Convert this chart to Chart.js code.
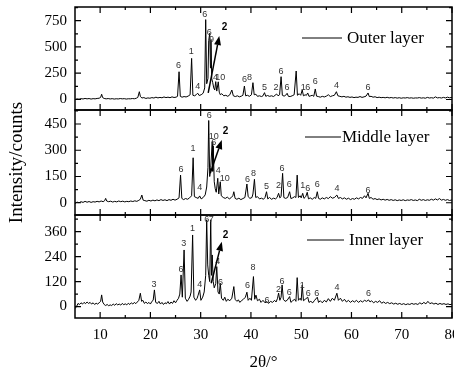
<!DOCTYPE html>
<html>
<head>
<meta charset="utf-8">
<script src="https://cdn.jsdelivr.net/npm/chart.js@4.4.0/dist/chart.umd.min.js"></script>
<style>
  html, body { margin: 0; padding: 0; background: #fff; }
  #wrap { position: relative; width: 454px; height: 373px; }
  #wrap canvas { position: absolute; left: 0; top: 0; }
</style>
</head>
<body>
<div id="wrap">
  <canvas id="outerChart" width="454" height="373"></canvas>
  <canvas id="middleChart" width="454" height="373"></canvas>
  <canvas id="innerChart" width="454" height="373"></canvas>
</div>
<script>
// axis ranges and tick labels
const twoThetaRange = [5, 80];
const twoThetaTicks = [10, 20, 30, 40, 50, 60, 70, 80];

const outerRange = [-100, 880];
const middleRange = [-70, 530];
const innerRange = [-55, 440];
const outerTicks = [0, 250, 500, 750];
const middleTicks = [0, 150, 300, 450];
const innerTicks = [0, 120, 240, 360];

// XRD patterns: [2theta, counts]
const outerPattern = [
  [5,0],[5.4,6],[5.8,3],[6.2,8],[6.6,5],[7,10],[7.4,6],[7.8,9],[8.2,4],[8.6,8],[9,6],[9.4,10],[9.8,12],[10.1,20],[10.3,50],[10.5,18],[10.8,10],[11.2,6],[11.6,9],[12,5],[12.4,8],[12.8,4],[13.2,7],[13.6,5],[14,9],[14.4,6],[14.8,8],[15.2,4],[15.6,7],[16,6],[16.4,9],[16.8,7],[17.2,12],[17.5,20],[17.8,74],[18.0,30],[18.3,14],[18.7,18],[19.1,10],[19.5,15],[19.9,12],[20.3,18],[20.7,14],[21.1,22],[21.5,15],[21.9,20],[22.3,16],[22.7,24],[23.1,18],[23.5,22],[23.9,17],[24.3,25],[24.7,19],[25.1,22],[25.4,30],[25.7,264],[25.95,30],[26.3,22],[26.7,28],[27.1,24],[27.5,32],[27.9,45],[28.2,391],[28.45,40],[28.8,35],[29.1,45],[29.4,60],[29.7,38],[30.1,45],[30.5,60],[30.8,110],[31.0,760],[31.2,150],[31.45,200],[31.6,560],[31.8,630],[31.95,300],[32.05,565],[32.2,200],[32.4,160],[32.6,110],[32.8,90],[33.0,170],[33.2,80],[33.5,168],[33.7,70],[33.9,45],[34.2,55],[34.6,35],[35.0,40],[35.4,30],[35.8,45],[36.2,90],[36.5,35],[36.9,28],[37.3,35],[37.7,25],[38.1,32],[38.4,40],[38.7,128],[38.95,35],[39.3,40],[39.7,30],[40.1,45],[40.4,160],[40.65,45],[41.0,50],[41.3,30],[41.7,35],[42.1,28],[42.4,35],[42.7,65],[42.95,30],[43.3,38],[43.7,30],[44.1,35],[44.5,28],[44.8,40],[45.1,52],[45.4,35],[45.7,45],[46.0,217],[46.25,40],[46.6,32],[46.9,40],[47.2,59],[47.45,30],[47.8,28],[48.2,35],[48.6,45],[49.0,271],[49.25,40],[49.6,55],[49.9,40],[50.2,90],[50.45,35],[50.8,45],[51.0,38],[51.3,62],[51.55,30],[51.9,35],[52.2,40],[52.5,30],[52.8,100],[53.05,32],[53.4,28],[53.8,22],[54.2,30],[54.6,24],[55.0,32],[55.4,45],[55.8,28],[56.2,35],[56.6,40],[57.0,74],[57.3,35],[57.7,30],[58.1,25],[58.5,30],[58.9,22],[59.3,26],[59.7,20],[60.1,24],[60.5,18],[60.9,22],[61.3,20],[61.7,28],[62.1,20],[62.5,25],[62.9,32],[63.3,62],[63.55,28],[63.9,30],[64.3,22],[64.7,26],[65.1,18],[65.5,22],[65.9,17],[66.3,20],[66.7,16],[67.1,21],[67.5,15],[67.9,19],[68.3,14],[68.7,18],[69.1,13],[69.5,17],[69.9,12],[70.3,16],[70.7,14],[71.1,18],[71.5,13],[71.9,16],[72.3,12],[72.7,15],[73.1,14],[73.5,18],[73.9,13],[74.3,16],[74.7,12],[75.1,20],[75.5,14],[75.9,17],[76.3,13],[76.7,25],[77.1,15],[77.5,18],[77.9,14],[78.3,20],[78.7,15],[79.1,22],[79.5,16],[80,20]
];

const middlePattern = [
  [5,-5],[5.4,4],[5.8,0],[6.2,6],[6.6,2],[7,8],[7.4,3],[7.8,7],[8.2,2],[8.6,6],[9,4],[9.4,8],[9.8,5],[10.2,10],[10.6,6],[10.9,12],[11.1,25],[11.3,10],[11.7,6],[12.1,9],[12.5,4],[12.9,8],[13.3,5],[13.7,10],[14.1,6],[14.5,9],[14.9,5],[15.3,8],[15.7,6],[16.1,10],[16.5,7],[16.9,11],[17.3,8],[17.7,14],[18.0,20],[18.3,44],[18.55,15],[18.9,12],[19.3,9],[19.7,14],[20.1,10],[20.5,15],[20.9,11],[21.3,16],[21.7,12],[22.1,18],[22.5,13],[22.9,17],[23.3,12],[23.7,18],[24.1,14],[24.5,20],[24.9,15],[25.3,20],[25.7,28],[26.0,158],[26.25,25],[26.6,18],[27.0,24],[27.4,20],[27.8,28],[28.2,40],[28.5,257],[28.75,35],[29.1,30],[29.5,25],[29.8,39],[30.1,22],[30.5,30],[30.9,45],[31.2,90],[31.45,200],[31.6,470],[31.8,150],[32.0,200],[32.3,349],[32.4,180],[32.5,324],[32.7,120],[32.9,80],[33.1,60],[33.4,140],[33.6,50],[33.9,120],[34.1,40],[34.5,30],[34.9,25],[35.3,32],[35.7,22],[36.1,30],[36.4,40],[36.6,63],[36.85,25],[37.2,20],[37.6,26],[38.0,18],[38.4,24],[38.8,30],[39.2,107],[39.45,35],[39.8,25],[40.2,30],[40.4,50],[40.7,134],[40.95,30],[41.3,35],[41.7,22],[42.1,26],[42.5,20],[42.8,30],[43.1,63],[43.35,22],[43.7,30],[44.1,20],[44.5,26],[44.9,22],[45.2,30],[45.5,54],[45.75,28],[46.0,35],[46.3,168],[46.55,30],[46.9,25],[47.3,30],[47.7,63],[47.95,24],[48.3,28],[48.7,35],[48.95,30],[49.2,158],[49.45,30],[49.8,40],[50.0,28],[50.3,54],[50.55,25],[50.9,35],[51.2,60],[51.45,22],[51.8,28],[52.2,20],[52.6,30],[52.9,25],[53.2,63],[53.45,25],[53.8,20],[54.2,28],[54.6,22],[55.0,30],[55.4,24],[55.8,35],[56.2,26],[56.6,30],[57.1,44],[57.4,25],[57.8,30],[58.2,22],[58.6,28],[59.0,20],[59.4,26],[59.8,18],[60.2,24],[60.6,20],[61.0,28],[61.4,22],[61.8,30],[62.2,25],[62.6,40],[62.9,28],[63.3,54],[63.55,25],[63.9,30],[64.3,20],[64.7,24],[65.1,18],[65.5,22],[65.9,16],[66.3,20],[66.7,15],[67.1,19],[67.5,14],[67.9,18],[68.3,13],[68.7,17],[69.1,12],[69.5,16],[69.9,13],[70.3,17],[70.7,12],[71.1,16],[71.5,14],[71.9,18],[72.3,13],[72.7,16],[73.1,12],[73.5,20],[73.9,14],[74.3,18],[74.7,13],[75.1,17],[75.5,14],[75.9,20],[76.3,15],[76.7,22],[77.1,16],[77.5,24],[77.9,15],[78.3,19],[78.7,14],[79.1,18],[79.5,13],[80,16]
];

const innerPattern = [
  [5,-10],[5.3,0],[5.6,15],[5.9,10],[6.2,18],[6.5,12],[6.8,20],[7.1,14],[7.4,22],[7.7,15],[8.0,20],[8.3,12],[8.6,18],[8.9,10],[9.2,16],[9.5,12],[9.8,18],[10.1,25],[10.3,56],[10.5,22],[10.8,10],[11.1,5],[11.4,10],[11.7,4],[12.0,8],[12.3,5],[12.6,12],[12.9,6],[13.2,14],[13.5,8],[13.8,12],[14.1,7],[14.4,15],[14.7,9],[15.0,13],[15.3,8],[15.6,16],[15.9,10],[16.2,18],[16.5,12],[16.8,20],[17.1,14],[17.4,22],[17.7,30],[18.0,64],[18.25,25],[18.5,30],[18.8,15],[19.1,22],[19.4,14],[19.7,20],[20.0,12],[20.3,25],[20.55,30],[20.8,80],[21.05,20],[21.4,15],[21.7,25],[22.0,12],[22.3,20],[22.6,10],[22.9,18],[23.2,14],[23.5,24],[23.8,12],[24.1,22],[24.4,15],[24.7,28],[25.0,18],[25.3,30],[25.6,40],[25.85,60],[26.1,152],[26.35,45],[26.7,272],[26.95,40],[27.3,25],[27.6,35],[27.9,50],[28.1,70],[28.4,344],[28.65,45],[29.0,30],[29.3,40],[29.5,55],[29.8,80],[30.05,30],[30.4,45],[30.7,70],[31.0,150],[31.2,417],[31.4,200],[31.6,150],[31.8,120],[32.0,417],[32.15,150],[32.3,248],[32.5,120],[32.7,90],[33.0,110],[33.2,192],[33.45,70],[33.7,60],[33.9,112],[34.15,40],[34.5,30],[34.8,45],[35.1,25],[35.4,35],[35.8,28],[36.2,40],[36.6,96],[36.85,35],[37.2,25],[37.5,32],[37.8,20],[38.1,28],[38.5,35],[38.9,45],[39.2,69],[39.45,30],[39.8,40],[40.1,30],[40.5,144],[40.75,35],[41.0,55],[41.3,28],[41.7,35],[42.0,20],[42.4,30],[42.8,18],[43.2,24],[43.5,15],[43.9,25],[44.3,20],[44.7,30],[45.0,22],[45.3,40],[45.5,65],[45.75,30],[46.0,45],[46.2,104],[46.45,35],[46.8,25],[47.2,30],[47.7,48],[47.95,20],[48.3,28],[48.7,35],[48.95,25],[49.2,139],[49.45,30],[49.8,40],[50.0,30],[50.2,104],[50.45,28],[50.8,35],[51.3,45],[51.55,20],[51.9,25],[52.3,18],[52.6,28],[53.2,45],[53.45,20],[53.8,28],[54.2,18],[54.6,30],[55.0,22],[55.4,38],[55.8,25],[56.2,40],[56.6,30],[57.1,64],[57.4,30],[57.8,40],[58.2,25],[58.6,35],[59.0,22],[59.4,30],[59.8,20],[60.2,28],[60.6,22],[61.0,30],[61.4,20],[61.8,28],[62.2,22],[62.6,30],[63.0,25],[63.4,32],[63.7,22],[64.0,28],[64.4,18],[64.8,25],[65.2,20],[65.6,28],[66.0,16],[66.4,22],[66.8,15],[67.2,20],[67.6,14],[68.0,18],[68.4,12],[68.8,16],[69.2,11],[69.6,15],[70.0,10],[70.4,14],[70.8,9],[71.2,13],[71.6,10],[72.0,15],[72.4,11],[72.8,14],[73.2,10],[73.6,18],[74.0,12],[74.4,20],[74.8,13],[75.2,25],[75.6,14],[76.0,18],[76.4,12],[76.8,16],[77.2,10],[77.6,15],[78.0,11],[78.4,14],[78.8,10],[79.2,13],[79.6,9],[80,12]
];

// phase numbers above the peaks: [2theta, counts at text bottom, text]
const outerPeakLabels = [
  [25.6,276,'6'],[28.15,414,'1'],[29.4,81,'4'],[30.8,770,'6'],[31.7,594,'6'],[32.15,528,'9'],[32.95,166,'4'],[33.9,166,'10'],
  [38.7,147,'6'],[39.7,166,'8'],[42.7,71,'5'],[45.0,71,'2'],[46.0,223,'6'],[47.2,71,'6'],[50.4,71,'1'],[51.3,71,'6'],
  [52.8,128,'6'],[57.0,90,'4'],[63.3,71,'6']
];
const middlePeakLabels = [
  [26.1,165,'6'],[28.5,286,'1'],[29.8,61,'4'],[31.7,475,'6'],[32.6,354,'10'],[32.6,317,'6'],[33.5,158,'4'],[34.8,111,'10'],
  [39.3,107,'6'],[40.5,140,'8'],[43.1,67,'5'],[45.5,73,'2'],[46.2,168,'6'],[47.6,77,'6'],[50.3,73,'1'],[51.3,54,'6'],
  [53.2,77,'6'],[57.1,57,'4'],[63.3,44,'6']
];
const innerPeakLabels = [
  [20.7,85,'3'],[26.1,155,'6'],[26.65,280,'3'],[28.4,352,'1'],[29.8,85,'4'],[31.2,396,'6'],[32.1,396,'7'],[33.4,197,'4'],
  [33.95,96,'6'],[39.3,80,'6'],[40.4,168,'8'],[43.2,5,'6'],[45.5,59,'2'],[46.2,99,'6'],[47.6,45,'6'],[50.2,80,'1'],
  [51.4,40,'6'],[53.1,40,'6'],[57.1,69,'4'],[63.4,40,'6']
];

// arrow "2": from [2theta, counts] to [2theta, counts], text at [2theta, counts]
const outerArrow = { from: [31.5, 62], to: [33.7, 604], text: '2', at: [34.2, 640] };
const middleArrow = { from: [31.9, 168], to: [34.2, 358], text: '2', at: [34.4, 381] };
const innerArrow = { from: [32.1, 112], to: [34.2, 311], text: '2', at: [34.4, 320] };

const serif = "'Liberation Serif', 'Times New Roman', serif";
const sans = "'Liberation Sans', Arial, sans-serif";

function minorValues(majors, min, max) {
    const step = majors[1] - majors[0];
    const out = [];
    [majors[0] - step].concat(majors).forEach(v => {
        const m = v + step / 2;
        if (m > min && m < max) out.push(m);
    });
    return out;
}

// box round each panel with inward ticks on all four sides
const frameTicks = {
    id: 'frameTicks',
    afterDraw(chart) {
        const { ctx, chartArea: a, scales: { x, y } } = chart;
        const xMajor = x.ticks.map(t => t.value);
        const yMajor = y.ticks.map(t => t.value);
        ctx.save();
        ctx.strokeStyle = '#000';
        ctx.lineWidth = 1.2;
        ctx.beginPath();
        const xMark = (vals, len) => vals.forEach(v => {
            const px = x.getPixelForValue(v);
            ctx.moveTo(px, a.bottom); ctx.lineTo(px, a.bottom - len);
            ctx.moveTo(px, a.top); ctx.lineTo(px, a.top + len);
        });
        const yMark = (vals, len) => vals.forEach(v => {
            const py = y.getPixelForValue(v);
            ctx.moveTo(a.left, py); ctx.lineTo(a.left + len, py);
            ctx.moveTo(a.right, py); ctx.lineTo(a.right - len, py);
        });
        xMark(xMajor, 6);
        xMark(minorValues(xMajor, x.min, x.max), 3);
        yMark(yMajor, 6);
        yMark(minorValues(yMajor, y.min, y.max), 3);
        ctx.stroke();
        ctx.lineWidth = 1.5;
        ctx.strokeRect(a.left, a.top, a.right - a.left, a.bottom - a.top);
        ctx.restore();
    }
};

function makePeakMarks(labels, arrow) {
    return {
        id: 'peakMarks',
        afterDatasetsDraw(chart) {
            const { ctx, scales: { x, y } } = chart;
            ctx.save();
            ctx.fillStyle = '#333';
            ctx.font = '9px ' + sans;
            ctx.textAlign = 'center';
            ctx.textBaseline = 'bottom';
            labels.forEach(([t, c, s]) => ctx.fillText(s, x.getPixelForValue(t), y.getPixelForValue(c)));

            const x0 = x.getPixelForValue(arrow.from[0]), y0 = y.getPixelForValue(arrow.from[1]);
            const x1 = x.getPixelForValue(arrow.to[0]), y1 = y.getPixelForValue(arrow.to[1]);
            const ang = Math.atan2(y1 - y0, x1 - x0);
            const head = 9, half = 3.5;
            const bx = x1 - head * Math.cos(ang), by = y1 - head * Math.sin(ang);
            ctx.strokeStyle = '#000';
            ctx.fillStyle = '#000';
            ctx.lineWidth = 1.5;
            ctx.beginPath();
            ctx.moveTo(x0, y0);
            ctx.lineTo(bx, by);
            ctx.stroke();
            ctx.beginPath();
            ctx.moveTo(x1, y1);
            ctx.lineTo(bx + half * Math.sin(ang), by - half * Math.cos(ang));
            ctx.lineTo(bx - half * Math.sin(ang), by + half * Math.cos(ang));
            ctx.closePath();
            ctx.fill();

            ctx.font = 'bold 10px ' + sans;
            ctx.textAlign = 'left';
            ctx.fillText(arrow.text, x.getPixelForValue(arrow.at[0]), y.getPixelForValue(arrow.at[1]));
            ctx.restore();
        }
    };
}

// "—— Outer layer" style key inside the panel
function makeLayerLegend(geom) {
    return {
        id: 'layerLegend',
        afterDraw(chart) {
            const { ctx, chartArea: a } = chart;
            const ly = a.top + geom.dy;
            ctx.save();
            ctx.strokeStyle = '#000';
            ctx.lineWidth = 1;
            ctx.beginPath();
            ctx.moveTo(geom.x0, ly);
            ctx.lineTo(geom.x1, ly);
            ctx.stroke();
            ctx.fillStyle = '#000';
            ctx.font = '17px ' + serif;
            ctx.textAlign = 'left';
            ctx.textBaseline = 'middle';
            ctx.fillText(chart.data.datasets[0].label, geom.tx, ly + 1);
            ctx.restore();
        }
    };
}

function makePanel(canvasId, label, pattern, yRange, yTicks, peakLabels, arrow, setup) {
    return new Chart(document.getElementById(canvasId), {
        type: 'line',
        data: {
            datasets: [{
                label: label,
                data: pattern.map(p => ({ x: p[0], y: p[1] })),
                borderColor: '#000',
                borderWidth: 1,
                pointRadius: 0,
                tension: 0,
                fill: false
            }]
        },
        options: {
            responsive: false,
            animation: false,
            events: [],
            layout: { padding: setup.padding },
            scales: {
                x: {
                    type: 'linear',
                    min: twoThetaRange[0],
                    max: twoThetaRange[1],
                    display: setup.showX,
                    afterBuildTicks: s => { s.ticks = twoThetaTicks.map(v => ({ value: v })); },
                    afterFit: s => {
                        s.paddingLeft = 0;
                        s.paddingRight = 0;
                        if (setup.showX) s.height = 55;
                    },
                    grid: { display: false, drawTicks: false },
                    border: { display: false },
                    ticks: { color: '#000', font: { family: serif, size: 15 }, padding: 8, maxRotation: 0, autoSkip: false },
                    title: {
                        display: setup.showX,
                        text: '2θ/°',
                        color: '#000',
                        font: { family: serif, size: 17 },
                        padding: { top: 0, bottom: 0 }
                    }
                },
                y: {
                    type: 'linear',
                    min: yRange[0],
                    max: yRange[1],
                    afterBuildTicks: s => { s.ticks = yTicks.map(v => ({ value: v })); },
                    afterFit: s => {
                        s.width = 75;
                        s.paddingTop = 0;
                        s.paddingBottom = 0;
                    },
                    grid: { display: false, drawTicks: false },
                    border: { display: false },
                    ticks: { color: '#000', font: { family: serif, size: 15 }, padding: 8 },
                    title: {
                        display: !!setup.yTitle,
                        text: setup.yTitle || '',
                        color: '#000',
                        font: { family: serif, size: 19 },
                        padding: { top: 6, bottom: 0 }
                    }
                }
            },
            plugins: {
                legend: { display: false },
                tooltip: { enabled: false }
            }
        },
        plugins: [makePeakMarks(peakLabels, arrow), frameTicks, makeLayerLegend(setup.legend)]
    });
}

makePanel('outerChart', 'Outer layer', outerPattern, outerRange, outerTicks, outerPeakLabels, outerArrow, {
    padding: { top: 7, right: 2, bottom: 263, left: 0 },
    showX: false,
    legend: { dy: 31, x0: 302, x1: 342, tx: 347 }
});

makePanel('middleChart', 'Middle layer', middlePattern, middleRange, middleTicks, middlePeakLabels, middleArrow, {
    padding: { top: 110, right: 2, bottom: 158, left: 0 },
    showX: false,
    yTitle: 'Intensity/counts',
    legend: { dy: 27, x0: 305, x1: 341, tx: 342 }
});

makePanel('innerChart', 'Inner layer', innerPattern, innerRange, innerTicks, innerPeakLabels, innerArrow, {
    padding: { top: 215, right: 2, bottom: 0, left: 0 },
    showX: true,
    legend: { dy: 25, x0: 307, x1: 344, tx: 349 }
});
</script>
</body>
</html>
